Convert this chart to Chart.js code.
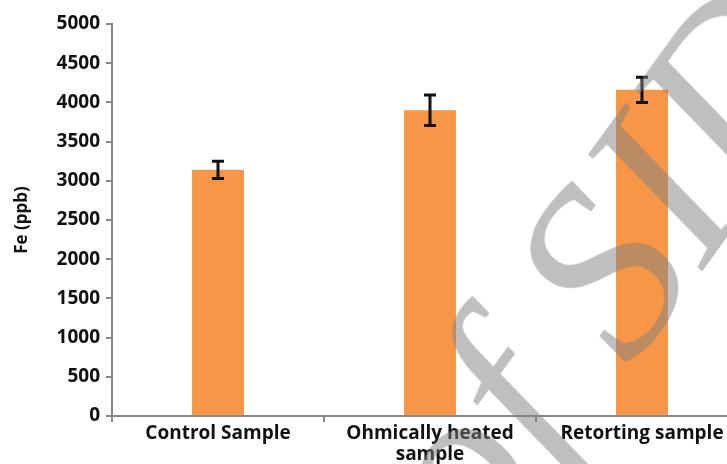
<!DOCTYPE html>
<html>
<head>
<meta charset="utf-8">
<script src="https://cdn.jsdelivr.net/npm/chart.js@4"></script>
<style>
html,body{margin:0;padding:0;background:#fff;overflow:hidden;}
#wrap{position:relative;width:727px;height:464px;overflow:hidden;}
#box{position:absolute;left:0;top:0;width:760px;height:464px;}
#wm{position:absolute;left:515px;top:352px;font-family:"Liberation Serif",serif;font-style:italic;font-size:245px;line-height:1;color:rgba(128,128,128,0.5);white-space:nowrap;transform-origin:0 100%;transform:rotate(-54deg);pointer-events:none;}
</style>
</head>
<body>
<div id="wrap">
<div id="box"><canvas id="c" width="760" height="464"></canvas></div>
<div id="wm">of SID</div>
</div>
<script>
const categories = [["Control Sample"], ["Ohmically heated", "sample"], ["Retorting sample"]];
const feValues = [3140, 3900, 4160];
const feErrors = [110, 195, 160];
const yTicks = [0, 500, 1000, 1500, 2000, 2500, 3000, 3500, 4000, 4500, 5000];

const errorBars = {
  id: 'errorBars',
  afterDatasetsDraw(chart) {
    const ctx = chart.ctx;
    const meta = chart.getDatasetMeta(0);
    const ys = chart.scales.y;
    ctx.save();
    ctx.strokeStyle = '#111';
    ctx.lineWidth = 3;
    meta.data.forEach((bar, i) => {
      const x = bar.x;
      const hi = ys.getPixelForValue(feValues[i] + feErrors[i]);
      const lo = ys.getPixelForValue(feValues[i] - feErrors[i]);
      ctx.beginPath();
      ctx.moveTo(x, hi); ctx.lineTo(x, lo);
      ctx.moveTo(x - 6, hi); ctx.lineTo(x + 6, hi);
      ctx.moveTo(x - 6, lo); ctx.lineTo(x + 6, lo);
      ctx.stroke();
    });
    ctx.restore();
  }
};

new Chart(document.getElementById('c'), {
  type: 'bar',
  data: {
    labels: categories,
    datasets: [{
      data: feValues,
      backgroundColor: '#F79646',
      borderWidth: 0,
      barPercentage: 1,
      categoryPercentage: 0.245
    }]
  },
  options: {
    responsive: false,
    animation: false,
    events: [],
    layout: { padding: { top: 24, right: 12, left: 0, bottom: 0 } },
    plugins: { legend: { display: false }, tooltip: { enabled: false } },
    scales: {
      x: {
        grid: { display: true, drawOnChartArea: false, offset: true, color: '#888', tickLength: 6, lineWidth: 2 },
        border: { display: true, color: '#888', width: 2 },
        ticks: { color: '#111', padding: 1, font: { family: 'Open Sans', weight: 'bold', size: 19, lineHeight: 1.1 }, maxRotation: 0, autoSkip: false },
        afterFit(s) { s.height = 48; }
      },
      y: {
        min: 0, max: 5000,
        afterBuildTicks(s) { s.ticks = yTicks.map(v => ({ value: v })); },
        grid: { display: true, drawOnChartArea: false, color: '#888', tickLength: 6, lineWidth: 2 },
        border: { display: true, color: '#888', width: 2 },
        ticks: { color: '#111', padding: 6, callback: v => String(v), font: { family: 'Open Sans', weight: 'bold', size: 19 } },
        title: { display: true, text: 'Fe (ppb)', color: '#111', padding: { top: 12, bottom: 4 }, font: { family: 'Open Sans', weight: 'bold', size: 17 } },
        afterFit(s) { s.width = 112; }
      }
    }
  },
  plugins: [errorBars]
});
</script>
</body>
</html>
